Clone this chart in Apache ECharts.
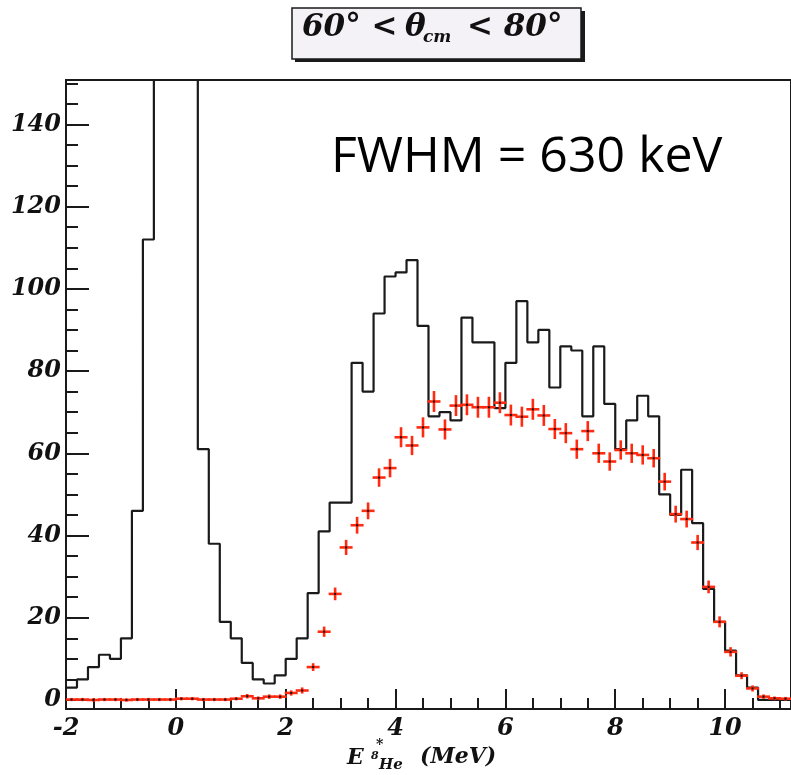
<!DOCTYPE html>
<html><head><meta charset="utf-8">
<script src="https://cdn.jsdelivr.net/npm/echarts@6/dist/echarts.min.js"></script>
<style>html,body{margin:0;padding:0;background:#fff}#c{width:791px;height:775px}</style>
</head><body><div id="c"></div>
<script>
// Binning of the excitation-energy axis (MeV)
const binStart = -2.0;
const binWidth = 0.2;

// Measured spectrum (black histogram), one count per 0.2 MeV bin from -2.0 to 11.2.
// Bins -0.4 .. 0.2 are off scale (clipped at the top of the frame).
const histCounts = [
  3, 5, 8, 11, 10, 15, 46, 112, 180, 300, 280, 170,
  61, 38, 19, 15, 9, 5, 4, 6, 10, 15, 26, 41,
  48, 48, 82, 75, 94, 103, 104, 107, 91, 69, 70, 68,
  93, 87, 87, 71, 82, 97, 87, 90, 76, 86, 85, 69,
  86, 72, 61, 68, 74, 69, 50, 45, 56, 43, 27, 19,
  12, 6, 3, 0, 0, 0
];

// Simulation (red crosses) at bin centres, with vertical error bars
const simValues = [
  0.1, 0.1, 0.0, 0.1, 0.1, 0.0, 0.1, 0.1, 0.1, 0.1,
  0.3, 0.3, 0.1, 0.1, 0.1, 0.3, 0.9, 0.4, 0.8, 0.8,
  1.7, 2.3, 8.0, 16.6, 25.8, 37.1, 42.5, 46.0, 54.1, 56.4,
  63.9, 61.9, 66.3, 72.6, 65.8, 71.6, 71.8, 71.2, 71.2, 72.3,
  69.3, 68.9, 70.7, 69.2, 65.9, 64.9, 61.0, 65.4, 60.0, 58.0,
  60.8, 60.0, 59.6, 58.8, 53.1, 45.2, 44.0, 38.3, 27.5, 19.0,
  11.7, 5.9, 2.8, 0.8, 0.4, 0.3
];
const simErrors = [
  0.15, 0.15, 0.15, 0.15, 0.15, 0.15, 0.15, 0.15, 0.15, 0.15,
  0.15, 0.15, 0.15, 0.15, 0.15, 0.15, 0.3, 0.2, 0.3, 0.3,
  0.4, 0.5, 0.7, 1.0, 1.3, 1.6, 1.8, 1.8, 2.0, 2.0,
  2.2, 2.1, 2.2, 2.3, 2.2, 2.3, 2.3, 2.3, 2.3, 2.3,
  2.3, 2.2, 2.3, 2.3, 2.2, 2.2, 2.1, 2.2, 2.1, 2.0,
  2.1, 2.1, 2.1, 2.0, 1.9, 1.8, 1.8, 1.6, 1.3, 1.1,
  0.9, 0.6, 0.5, 0.3, 0.2, 0.2
];

const yMajorTicks = [0, 20, 40, 60, 80, 100, 120, 140];
const yMinorTicks = [5, 10, 15, 25, 30, 35, 45, 50, 55, 65, 70, 75, 85, 90, 95, 105, 110, 115, 125, 130, 135, 145, 150];
const xMajorTicks = [-2, 0, 2, 4, 6, 8, 10];
const xMinorTicks = [-1.5, -1, -0.5, 0.5, 1, 1.5, 2.5, 3, 3.5, 4.5, 5, 5.5, 6.5, 7, 7.5, 8.5, 9, 9.5, 10.5, 11];

const X_MIN = -2, X_MAX = 11.2, Y_MIN = -2.2, Y_MAX = 150.8;

// Build histogram step outline from the bin counts
const histLine = [];
histCounts.forEach((v, i) => {
  const lo = binStart + i * binWidth;
  histLine.push([lo, v], [lo + binWidth, v]);
});
const simData = simValues.map((v, i) => [binStart + (i + 0.5) * binWidth, v, simErrors[i]]);

const INK = '#1a1a1a';
const RED = '#ff2a10';
const serifLabel = { fontFamily: 'DejaVu Serif', fontStyle: 'italic', fontWeight: 'bold', color: '#111' };

function renderCross(params, api) {
  const x = api.value(0), y = api.value(1), e = api.value(2);
  const pL = api.coord([x - binWidth / 2, y]);
  const pR = api.coord([x + binWidth / 2, y]);
  const pT = api.coord([x, y + e]);
  const pB = api.coord([x, y - e]);
  const c = api.coord([x, y]);
  return {
    type: 'group',
    children: [
      { type: 'line', shape: { x1: pL[0] - 1, y1: pL[1], x2: pR[0] + 1, y2: pR[1] }, style: { stroke: RED, lineWidth: 2.6 } },
      { type: 'line', shape: { x1: pT[0], y1: pT[1] - 1, x2: pB[0], y2: pB[1] + 1 }, style: { stroke: RED, lineWidth: 2.6 } },
      { type: 'rect', shape: { x: c[0] - 1, y: c[1] - 1, width: 2, height: 2 }, style: { fill: '#111' } }
    ]
  };
}

const chart = echarts.init(document.getElementById('c'), null, { renderer: 'canvas' });
const font = (size, fam) => 'italic bold ' + size + 'px "' + (fam || 'DejaVu Serif') + '"';
const txt = (x, y, text, f, extra) => ({
  type: 'text', z: 12,
  style: Object.assign({ x: x, y: y, text: text, font: f, fill: '#111', textAlign: 'left', textVerticalAlign: 'middle', align: 'left', verticalAlign: 'middle' }, extra || {})
});
chart.setOption({
  animation: false,
  backgroundColor: '#ffffff',
  grid: { left: 66, top: 80, right: -2, bottom: 66, show: true, borderColor: INK, borderWidth: 2, backgroundColor: 'transparent' },
  xAxis: [
    {
      type: 'value', min: X_MIN, max: X_MAX, position: 'bottom',
      axisLine: { show: true, onZero: false, lineStyle: { color: INK, width: 2 } },
      axisTick: { show: true, inside: true, length: 20, lineStyle: { color: INK, width: 2 }, customValues: xMajorTicks },
      axisLabel: Object.assign({ fontSize: 24, margin: 8, customValues: xMajorTicks }, serifLabel),
      splitLine: { show: false }
    },
    {
      type: 'value', min: X_MIN, max: X_MAX, position: 'bottom', gridIndex: 0,
      axisLine: { show: false, onZero: false },
      axisTick: { show: true, inside: true, length: 11, lineStyle: { color: INK, width: 2 }, customValues: xMinorTicks },
      axisLabel: { show: false },
      splitLine: { show: false }
    }
  ],
  yAxis: [
    {
      type: 'value', min: Y_MIN, max: Y_MAX, position: 'left',
      axisLine: { show: true, onZero: false, lineStyle: { color: INK, width: 2 } },
      axisTick: { show: true, inside: true, length: 23, lineStyle: { color: INK, width: 2 }, customValues: yMajorTicks },
      axisLabel: Object.assign({ fontSize: 24, margin: 5, customValues: yMajorTicks }, serifLabel),
      splitLine: { show: false }
    },
    {
      type: 'value', min: Y_MIN, max: Y_MAX, position: 'left', gridIndex: 0,
      axisLine: { show: false, onZero: false },
      axisTick: { show: true, inside: true, length: 12, lineStyle: { color: INK, width: 2 }, customValues: yMinorTicks },
      axisLabel: { show: false },
      splitLine: { show: false }
    }
  ],
  series: [
    {
      type: 'line', xAxisIndex: 0, yAxisIndex: 0, data: histLine,
      showSymbol: false, symbol: 'none', clip: true, z: 2,
      lineStyle: { color: INK, width: 2.2 }
    },
    {
      type: 'custom', xAxisIndex: 0, yAxisIndex: 0, data: simData,
      renderItem: renderCross, clip: true, z: 3
    }
  ],
  graphic: [
    { type: 'rect', z: 10, shape: { x: 295, y: 11, width: 290, height: 51 }, style: { fill: INK } },
    { type: 'rect', z: 11, shape: { x: 292, y: 8, width: 289, height: 51 }, style: { fill: '#f4f2f7', stroke: INK, lineWidth: 1.5 } },
    txt(302, 28, '60° <', font(31)),
    txt(405, 28, 'θ', font(31)),
    txt(423, 38, 'cm', font(17)),
    txt(467, 28, '< 80°', font(31)),
    txt(331, 158, 'FWHM = 630 keV', '50px "Open Sans"', { fill: '#000' }),
    txt(347, 758, 'E', font(22)),
    txt(376, 745, '*', font(14)),
    txt(371, 756, '8', font(11)),
    txt(379, 765, 'He', font(15)),
    txt(420, 757, '(MeV)', font(22))
  ]
});
</script>
</body></html>
